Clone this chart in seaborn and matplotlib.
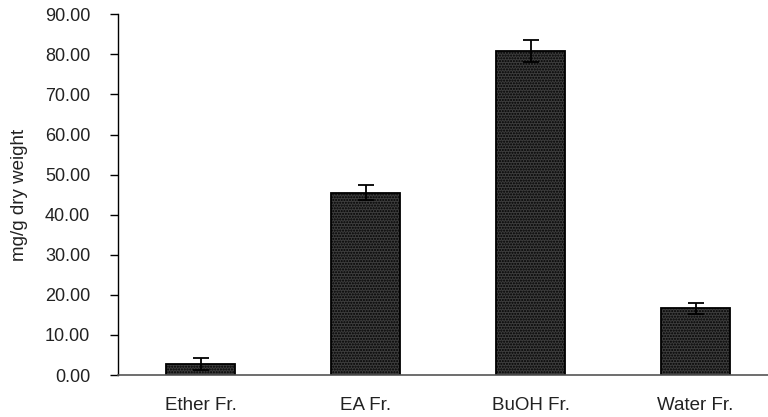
import matplotlib
matplotlib.use('Agg')

import seaborn as sns
import matplotlib.pyplot as plt
from matplotlib.ticker import FixedLocator

# values (mg/g dry weight)
fractions = ["Ether Fr.", "EA Fr.", "BuOH Fr.", "Water Fr."]
means = [2.75, 45.5, 80.8, 16.6]
errors = [1.4, 1.9, 2.7, 1.3]
y_ticks = [0, 10, 20, 30, 40, 50, 60, 70, 80, 90]

sns.set_style("white")
plt.rcParams['font.family'] = ['Liberation Sans', 'DejaVu Sans']
plt.rcParams['hatch.color'] = '#5c5c5c'

fig = plt.figure(figsize=(7.68, 4.17), dpi=100)
# axis runs off the right edge like the original crop
ax = fig.add_axes([118 / 768, 42 / 417, 660 / 768, 360.7 / 417])

sns.barplot(x=fractions, y=means, ax=ax, width=0.42,
            color='#3d3d3d', edgecolor='black', linewidth=1.3,
            hatch='......', saturation=1)

ax.errorbar(range(len(fractions)), means, yerr=errors, fmt='none',
            ecolor='black', elinewidth=1.3, capsize=5.5, capthick=1.3)

ax.set_xlim(-0.5, 3.5)
ax.set_ylim(0, 90)
ax.set_yticks(y_ticks)
ax.set_yticklabels([f"{v:.2f}" for v in y_ticks], fontsize=13, color='#222222')
ax.set_ylabel("mg/g dry weight", fontsize=13.5, color='#222222', labelpad=12)
ax.set_xlabel("")

# x ticks sit between categories, pointing inward
ax.xaxis.set_major_locator(FixedLocator([0.5, 1.5, 2.5]))
ax.xaxis.set_minor_locator(FixedLocator([0, 1, 2, 3]))
ax.set_xticklabels([])
ax.set_xticklabels(fractions, minor=True, fontsize=13.5, color='#222222')
ax.tick_params(axis='x', which='major', direction='in', length=5, width=1, color='#444444')
ax.tick_params(axis='x', which='minor', length=0, pad=16)
ax.tick_params(axis='y', direction='out', length=6, width=1, color='black', pad=14, left=True)

for s in ['top', 'right']:
    ax.spines[s].set_visible(False)
ax.spines['left'].set_color('black')
ax.spines['bottom'].set_color('#555555')
ax.spines['left'].set_linewidth(1)
ax.spines['bottom'].set_linewidth(1.2)

fig.savefig("out.png", dpi=100)
plt.close('all')
